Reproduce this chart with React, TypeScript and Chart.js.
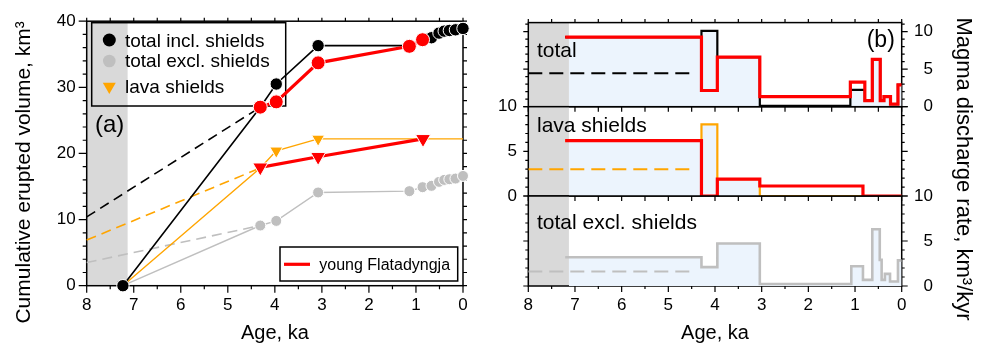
import React, { useEffect, useRef } from "react";
import { Chart, registerables } from "chart.js";

Chart.register(...registerables);

const FONT = "'Liberation Sans', Arial, Helvetica, sans-serif";
Chart.defaults.font.family = FONT;
Chart.defaults.color = "#000";

// ---------- colours ----------
const RED = "#ff0000";
const ORANGE = "#ffa500";
const GRAY = "#bfbfbf";
const BLACK = "#000000";
const BAND = "#d9d9d9";
const FILL = "#ecf4fd";

// ---------- shared ----------
const ageTicks = [0, 1, 2, 3, 4, 5, 6, 7, 8];
const bandAges = [8, 7.13];

// ---------- (a) cumulative erupted volume, km3 ----------
const volTicks = [0, 10, 20, 30, 40];
const volAges = [7.23, 4.31, 3.97, 3.08, 1.14, 0.86, 0.67, 0.51, 0.4, 0.29, 0.16, 0.0];
const inclVol = [0, 27.0, 30.5, 36.3, 36.3, 37.2, 37.5, 38.2, 38.5, 38.6, 38.7, 38.9];
const exclVol = [0, 9.1, 9.8, 14.1, 14.3, 14.9, 15.1, 15.7, 16.0, 16.1, 16.2, 16.6];
const lavaAges = [7.23, 4.31, 3.97, 3.08, 0.0];
const lavaVol = [0, 17.8, 20.4, 22.2, 22.2];
const youngAges = [4.31, 3.97, 3.08, 1.14, 0.86];
const youngVol = [27.0, 27.8, 33.7, 36.2, 37.2];
const youngLavaAges = [4.31, 3.08, 0.85];
const youngLavaVol = [17.9, 19.5, 22.2];
const extrapAges = [8, 4.31];
const inclExtrap = [10.4, 27.0];
const lavaExtrap = [6.9, 17.8];
const exclExtrap = [3.5, 9.1];

// ---------- (b) magma discharge rate, km3/kyr ----------
const rateTicks = [0, 5, 10];
const totalStepAges = [7.21, 4.29, 3.95, 3.04, 1.1, 0.79, 0.63, 0.46, 0.38, 0.24, 0.08, 0];
const totalStepRate = [9.27, 10.1, 6.6, 0.1, 2.24, 0.8, 6.3, 0.8, 1.35, 0.35, 2.9, 2.9];
const youngStepRate = [9.27, 2.16, 6.6, 1.34, 3.26, 0.8, 6.3, 0.8, 1.35, 0.35, 2.9, 2.9];
const lavaStepAges = [7.21, 4.29, 3.95, 3.04, 0];
const lavaStepRate = [6.19, 8.03, 1.9, 0, 0];
const youngLavaStepAges = [7.21, 4.29, 3.95, 3.04, 0.83, 0];
const youngLavaStepRate = [6.19, 0, 1.9, 1.12, 0, 0];
const exclStepAges = [7.21, 4.29, 3.95, 3.04, 1.08, 0.83, 0.63, 0.47, 0.43, 0.36, 0.25, 0.08, 0];
const exclStepRate = [3.19, 2.1, 4.73, 0.22, 2.2, 0.68, 6.3, 2.9, 0.68, 1.35, 0.5, 2.85, 2.85];
const rateExtrapAges = [8, 4.42];
const totalRateExtrap = [4.47, 4.47];
const lavaRateExtrap = [3.0, 3.0];
const exclRateExtrap = [1.6, 1.6];

const pts = (xs: number[], ys: number[]) => xs.map((x, i) => ({ x, y: ys[i] }));
const fromBand = (xs: number[]) => [bandAges[1], ...xs.slice(1)];

// ---------- plugins ----------
const framePlugin = {
  id: "frame",
  beforeDatasetsDraw(chart: any, _a: any, o: any) {
    const { ctx, chartArea: a } = chart;
    const xs = chart.scales.x;
    const ys = chart.scales.y;
    ctx.save();
    if (o.band) {
      const p0 = xs.getPixelForValue(o.band[0]);
      const p1 = xs.getPixelForValue(o.band[1]);
      ctx.fillStyle = BAND;
      ctx.fillRect(Math.min(p0, p1), a.top, Math.abs(p1 - p0), a.bottom - a.top);
    }
    ctx.strokeStyle = "#000";
    ctx.lineWidth = 1.5;
    ctx.strokeRect(a.left, a.top, a.right - a.left, a.bottom - a.top);
    const gen = (min: number, max: number, minor: number, major: number) => {
      const out: { v: number; major: boolean }[] = [];
      const n = Math.floor((max - min) / minor + 1e-6);
      for (let i = 0; i <= n; i++) {
        const v = min + i * minor;
        out.push({ v, major: Math.abs(v / major - Math.round(v / major)) < 1e-6 });
      }
      return out;
    };
    ctx.lineWidth = 1.2;
    ctx.beginPath();
    const s = o.sides;
    for (const t of gen(xs.min, xs.max, o.xMinor, o.xMajor)) {
      const px = xs.getPixelForValue(t.v);
      if (s.bottom) {
        const l = t.major ? s.bottom[0] : s.bottom[1];
        ctx.moveTo(px, a.bottom);
        ctx.lineTo(px, a.bottom + l);
      }
      if (s.top) {
        const l = t.major ? s.top[0] : s.top[1];
        ctx.moveTo(px, a.top);
        ctx.lineTo(px, a.top - l);
      }
    }
    for (const t of gen(ys.min, ys.max, o.yMinor, o.yMajor)) {
      const py = ys.getPixelForValue(t.v);
      if (s.left) {
        const l = t.major ? s.left[0] : s.left[1];
        ctx.moveTo(a.left, py);
        ctx.lineTo(a.left - l, py);
      }
      if (s.right) {
        const l = t.major ? s.right[0] : s.right[1];
        ctx.moveTo(a.right, py);
        ctx.lineTo(a.right + l, py);
      }
    }
    ctx.stroke();
    ctx.restore();
  },
};

function drawNotes(chart: any, o: any, under: boolean) {
  const ctx = chart.ctx;
  ctx.save();
  for (const it of o.items || []) {
    if (!!it.under !== under) continue;
    if (it.kind === "box") {
      ctx.lineWidth = 1.5;
      ctx.strokeStyle = "#000";
      ctx.strokeRect(it.x, it.y, it.w, it.h);
    } else if (it.kind === "circle") {
      ctx.fillStyle = it.color;
      ctx.beginPath();
      ctx.arc(it.x, it.y, it.r, 0, Math.PI * 2);
      ctx.fill();
    } else if (it.kind === "tri") {
      const r = it.r;
      ctx.fillStyle = it.color;
      ctx.beginPath();
      ctx.moveTo(it.x - r * 0.866, it.y - r * 0.5);
      ctx.lineTo(it.x + r * 0.866, it.y - r * 0.5);
      ctx.lineTo(it.x, it.y + r);
      ctx.closePath();
      ctx.fill();
    } else if (it.kind === "line") {
      ctx.strokeStyle = it.color;
      ctx.lineWidth = it.w;
      ctx.beginPath();
      ctx.moveTo(it.x, it.y);
      ctx.lineTo(it.x2, it.y);
      ctx.stroke();
    } else if (it.kind === "text") {
      ctx.font = `${it.size}px ${FONT}`;
      ctx.fillStyle = "#000";
      ctx.textAlign = it.align || "left";
      ctx.textBaseline = "alphabetic";
      ctx.save();
      ctx.translate(it.x, it.y);
      if (it.rot) ctx.rotate(it.rot);
      ctx.fillText(it.text, 0, 0);
      ctx.restore();
    }
  }
  ctx.restore();
}

const notesPlugin = {
  id: "notes",
  beforeDatasetsDraw(chart: any, _a: any, o: any) {
    drawNotes(chart, o, true);
  },
  afterDatasetsDraw(chart: any, _a: any, o: any) {
    drawNotes(chart, o, false);
  },
};

// ---------- helpers ----------
const lineDs = (label: string, data: any[], color: string, width: number, extra: any = {}) => ({
  label,
  data,
  borderColor: color,
  backgroundColor: color,
  borderWidth: width,
  pointRadius: 0,
  fill: false,
  tension: 0,
  clip: false,
  ...extra,
});

const stepDs = (label: string, data: any[], color: string, width: number, order: number, extra: any = {}) => ({
  label,
  data,
  borderColor: color,
  backgroundColor: color,
  borderWidth: width,
  pointRadius: 0,
  fill: false,
  stepped: true,
  order,
  ...extra,
});

const fillDs = (data: any[]) => ({
  label: "fill",
  data,
  borderWidth: 0,
  borderColor: "rgba(0,0,0,0)",
  backgroundColor: FILL,
  fill: "origin",
  stepped: true,
  pointRadius: 0,
  order: 20,
});

const tickFont = { size: 17, family: FONT };
const noGrid = { display: false, drawTicks: false };
const noBorder = { display: false };

const ageAxis = (show: boolean, height: number) => ({
  type: "linear",
  min: 0,
  max: 8,
  reverse: true,
  display: show,
  position: "bottom",
  afterBuildTicks: (s: any) => {
    s.ticks = ageTicks.map((v) => ({ value: v }));
  },
  ticks: { autoSkip: false, maxRotation: 0, padding: 9, font: tickFont, color: "#000" },
  grid: noGrid,
  border: noBorder,
  title: { display: show, text: "Age, ka", font: { size: 20, family: FONT }, color: "#000", padding: { top: 0, bottom: 1 } },
  afterFit: (s: any) => {
    s.height = show ? height : 0;
  },
});

const baseOptions = (padding: any) => ({
  responsive: false,
  animation: false,
  events: [],
  layout: { padding, autoPadding: false },
});

// ---------- configs ----------
function leftConfig() {
  const tri = (r: number, n: number) => Array.from({ length: n }, (_, i) => (i === 0 || i === n - 1 ? 0 : r));
  return {
    type: "line",
    data: {
      datasets: [
        lineDs("excl extrapolation", pts(extrapAges, exclExtrap), GRAY, 1.6, { borderDash: [10, 6], order: 10 }),
        lineDs("lava extrapolation", pts(extrapAges, lavaExtrap), ORANGE, 1.6, { borderDash: [10, 6], order: 9 }),
        lineDs("incl extrapolation", pts(extrapAges, inclExtrap), BLACK, 1.6, { borderDash: [10, 6], order: 8 }),
        lineDs("total excl. shields", pts(volAges, exclVol), GRAY, 1.4, {
          order: 7,
          pointRadius: 5.5,
          pointBackgroundColor: GRAY,
          pointBorderColor: "#fff",
          pointBorderWidth: 1,
        }),
        lineDs("lava shields", pts(lavaAges, lavaVol), ORANGE, 1.4, {
          order: 6,
          pointStyle: "triangle",
          pointRotation: 180,
          pointRadius: tri(7.5, lavaAges.length),
          pointBackgroundColor: ORANGE,
          pointBorderColor: "#fff",
          pointBorderWidth: 1,
        }),
        lineDs("total incl. shields", pts(volAges, inclVol), BLACK, 1.6, {
          order: 5,
          pointRadius: 6.2,
          pointBackgroundColor: BLACK,
          pointBorderColor: "#fff",
          pointBorderWidth: 1,
        }),
        lineDs("young Flatadyngja lava", pts(youngLavaAges, youngLavaVol), RED, 3.2, {
          order: 2,
          pointStyle: "triangle",
          pointRotation: 180,
          pointRadius: 8.7,
          pointBackgroundColor: RED,
          pointBorderColor: "#fff",
          pointBorderWidth: 1,
        }),
        lineDs("young Flatadyngja", pts(youngAges, youngVol), RED, 3.2, {
          order: 1,
          pointRadius: 7,
          pointBackgroundColor: RED,
          pointBorderColor: "#fff",
          pointBorderWidth: 1,
        }),
      ],
    },
    options: {
      ...baseOptions({ left: 0, right: 519, top: 16.5, bottom: 0 }),
      plugins: {
        legend: { display: false },
        tooltip: { enabled: false },
        frame: {
          band: bandAges,
          xMinor: 0.5,
          xMajor: 1,
          yMinor: 2,
          yMajor: 10,
          sides: { bottom: [7, 3.5], left: [8, 4], top: [3.5, 3.5], right: [4, 4] },
        },
        notes: {
          items: [
            { kind: "box", x: 91.7, y: 22.7, w: 194, h: 83.3, under: true },
            { kind: "circle", x: 109.3, y: 40, r: 6.5, color: BLACK, under: true },
            { kind: "text", text: "total incl. shields", x: 125, y: 46.6, size: 19, under: true },
            { kind: "circle", x: 109.3, y: 61, r: 6.3, color: GRAY, under: true },
            { kind: "text", text: "total excl. shields", x: 125, y: 67, size: 19, under: true },
            { kind: "tri", x: 109.3, y: 86.5, r: 7.5, color: ORANGE, under: true },
            { kind: "text", text: "lava shields", x: 125, y: 93.3, size: 19, under: true },
            { kind: "text", text: "(a)", x: 95, y: 131.5, size: 24, under: true },
            { kind: "box", x: 280, y: 247, w: 177.7, h: 34, under: true },
            { kind: "line", x: 284, x2: 310, y: 264.3, w: 3.2, color: RED, under: true },
            { kind: "text", text: "young Flatadyngja", x: 319.3, y: 270, size: 16, under: true },
            { kind: "text", text: "Cumulative erupted volume, km³", x: 30.3, y: 172.4, size: 21, align: "center", rot: -Math.PI / 2 },
          ],
        },
      },
      scales: {
        x: ageAxis(true, 60.3),
        y: {
          type: "linear",
          min: 0,
          max: 40,
          afterBuildTicks: (s: any) => {
            s.ticks = volTicks.map((v) => ({ value: v }));
          },
          ticks: { padding: 11, font: tickFont, color: "#000" },
          grid: noGrid,
          border: noBorder,
          afterFit: (s: any) => {
            s.width = 86.7;
          },
        },
      },
    },
    plugins: [framePlugin, notesPlugin],
  };
}

const rateAxis = (position: string, max: number, width: number, padding: number) => ({
  type: "linear",
  position,
  min: 0,
  max,
  afterBuildTicks: (s: any) => {
    s.ticks = rateTicks.map((v) => ({ value: v }));
  },
  ticks: { padding, font: tickFont, color: "#000", crossAlign: position === "right" ? "far" : "near" },
  grid: noGrid,
  border: noBorder,
  afterFit: (s: any) => {
    s.width = width;
  },
});

const rightFrame = (sides: any) => ({ band: bandAges, xMinor: 0.5, xMajor: 1, yMinor: 1, yMajor: 5, sides });

function topConfig() {
  return {
    type: "line",
    data: {
      datasets: [
        fillDs(pts(fromBand(totalStepAges), totalStepRate)),
        stepDs("total extrapolation", pts(rateExtrapAges, totalRateExtrap), BLACK, 2, 5, { borderDash: [14, 7], stepped: false }),
        stepDs("total", pts(totalStepAges, totalStepRate), BLACK, 2.2, 3),
        stepDs("young Flatadyngja", pts(totalStepAges, youngStepRate), RED, 3.2, 1),
      ],
    },
    options: {
      ...baseOptions({ left: 528.3, right: 49, top: 15, bottom: 239.3 }),
      plugins: {
        legend: { display: false },
        tooltip: { enabled: false },
        frame: rightFrame({ top: [3.5, 3.5], bottom: [5, 5], left: [5, 3], right: [6, 3] }),
        notes: {
          items: [
            { kind: "text", text: "total", x: 537, y: 57, size: 21 },
            { kind: "text", text: "(b)", x: 866.7, y: 47, size: 23 },
          ],
        },
      },
      scales: { x: ageAxis(false, 0), y: rateAxis("right", 11.2, 31.3, 12.4) },
    },
    plugins: [framePlugin, notesPlugin],
  };
}

function midConfig() {
  return {
    type: "line",
    data: {
      datasets: [
        fillDs(pts(fromBand(lavaStepAges), lavaStepRate)),
        stepDs("lava extrapolation", pts(rateExtrapAges, lavaRateExtrap), ORANGE, 2, 5, { borderDash: [14, 7], stepped: false }),
        stepDs("lava shields", pts(lavaStepAges, lavaStepRate), ORANGE, 2.2, 3),
        stepDs("young Flatadyngja", pts(youngLavaStepAges, youngLavaStepRate), RED, 3.2, 1),
      ],
    },
    options: {
      ...baseOptions({ left: 488.3, right: 80.3, top: 106.7, bottom: 150 }),
      plugins: {
        legend: { display: false },
        tooltip: { enabled: false },
        frame: rightFrame({ bottom: [5, 5], left: [5, 3], right: [6, 3] }),
        notes: { items: [{ kind: "text", text: "lava shields", x: 537, y: 131.7, size: 21 }] },
      },
      scales: { x: ageAxis(false, 0), y: rateAxis("left", 10, 40, 11.3) },
    },
    plugins: [framePlugin, notesPlugin],
  };
}

function botConfig() {
  return {
    type: "line",
    data: {
      datasets: [
        fillDs(pts(fromBand(exclStepAges), exclStepRate)),
        stepDs("excl extrapolation", pts(rateExtrapAges, exclRateExtrap), GRAY, 2, 5, { borderDash: [14, 7], stepped: false }),
        stepDs("total excl. shields", pts(exclStepAges, exclStepRate), GRAY, 2.6, 3),
      ],
    },
    options: {
      ...baseOptions({ left: 528.3, right: 49, top: 196, bottom: 0 }),
      plugins: {
        legend: { display: false },
        tooltip: { enabled: false },
        frame: rightFrame({ bottom: [6, 3], left: [5, 3], right: [6, 3] }),
        notes: {
          items: [
            { kind: "text", text: "total excl. shields", x: 537, y: 229.3, size: 21 },
            { kind: "text", text: "Magma discharge rate, km³/kyr", x: 957, y: 169, size: 22, align: "center", rot: Math.PI / 2 },
          ],
        },
      },
      scales: { x: ageAxis(true, 60), y: rateAxis("right", 10, 31.3, 12.4) },
    },
    plugins: [framePlugin, notesPlugin],
  };
}

function ChartCanvas({ make }: { make: () => any }) {
  const ref = useRef<HTMLCanvasElement>(null);
  useEffect(() => {
    const chart = new Chart(ref.current as HTMLCanvasElement, make() as any);
    return () => chart.destroy();
  }, [make]);
  return (
    <canvas
      ref={ref}
      width={982}
      height={346}
      style={{ position: "absolute", left: 0, top: 0, width: 982, height: 346 }}
    />
  );
}

export default function App() {
  return (
    <div
      style={{
        position: "fixed",
        left: 0,
        top: 0,
        width: 982,
        height: 346,
        background: "#fff",
        overflow: "hidden",
      }}
    >
      <ChartCanvas make={leftConfig} />
      <ChartCanvas make={topConfig} />
      <ChartCanvas make={midConfig} />
      <ChartCanvas make={botConfig} />
    </div>
  );
}
